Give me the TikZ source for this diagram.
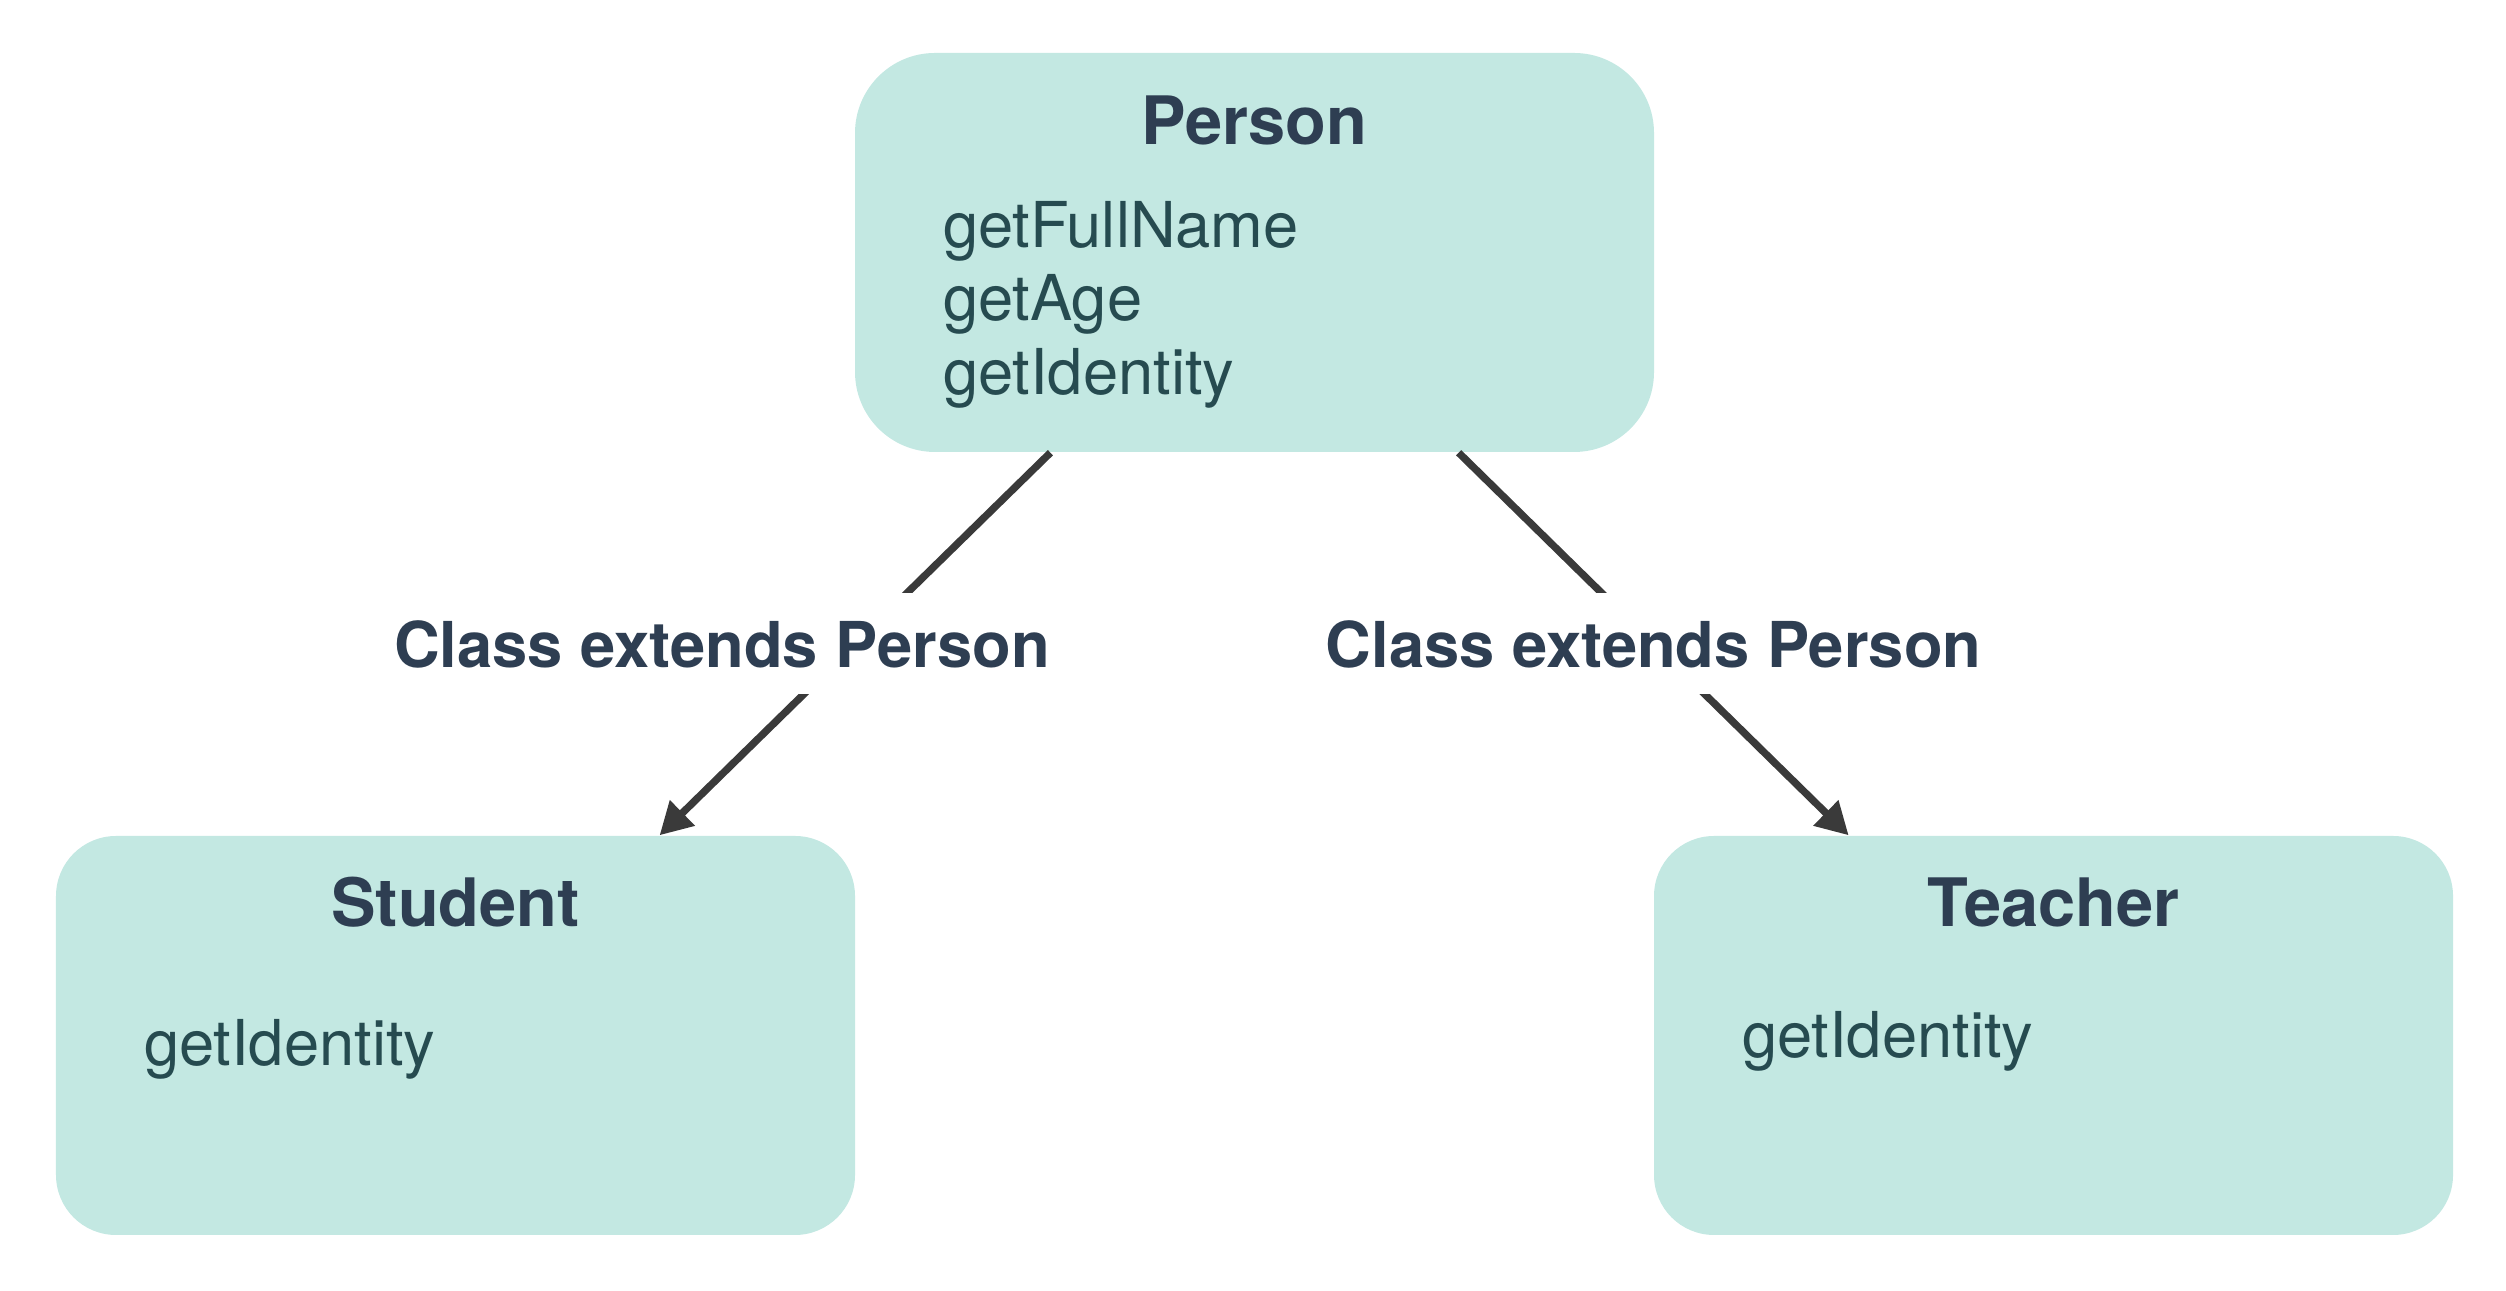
\documentclass[tikz,border=0pt]{standalone}
\usepackage{fontspec}
\setmainfont{TeX Gyre Heros}
\usetikzlibrary{positioning, calc, arrows.meta}

\definecolor{boxfill}{HTML}{C3E8E2}
\definecolor{titlecol}{HTML}{2E3E52}
\definecolor{methcol}{HTML}{264B50}
\definecolor{arrcol}{HTML}{3A3A3A}

\begin{document}
\begin{tikzpicture}

% GLOBAL SETTINGS
\tikzset{
  classbox/.style={fill=boxfill, draw=none, rounded corners=0.6cm,
    minimum width=7.99cm, minimum height=3.99cm, inner sep=0pt},
  classtitle/.style={text=titlecol, font=\fontsize{19}{23}\selectfont\bfseries,
    inner sep=0pt, anchor=base},
  method/.style={text=methcol, font=\fontsize{18}{22}\selectfont,
    inner sep=0pt, anchor=base west},
  extlabel/.style={fill=white, text=titlecol, font=\fontsize{18}{22}\selectfont\bfseries,
    inner xsep=2pt, minimum height=1.01cm},
  inherit/.style={draw=arrcol, line width=2.1pt, -{Triangle[length=0.32cm, width=0.34cm]}}
}
\newlength{\mleft}
\setlength{\mleft}{0.88cm}

\useasboundingbox (0,0) rectangle (25.06,12.91);

% BOXES
\node[classbox, rounded corners=0.8cm] (person) at (12.545,10.385) {};
\node[classbox] (student) at (4.555,2.555) {};
\node[classbox] (teacher) at (20.535,2.555) {};

% TITLES
\node[classtitle] (personT) at ($(person.north)+(0,-0.92)$) {Person};
\node[classtitle] (studentT) at ($(student.north)+(0,-0.91)$) {Student};
\node[classtitle] (teacherT) at ($(teacher.north)+(0,-0.91)$) {Teacher};

% METHODS
\path foreach \m [count=\i] in {getFullName,getAge,getIdentity} {
  ($(person.north west)+(\mleft,-1.95-0.735*\i+0.735)$) node[method] (pm\i) {\m}
};
\node[method] (sm1) at ($(student.north west)+(\mleft,-2.30)$) {getIdentity};
\node[method] (tm1) at ($(teacher.north west)+(\mleft,-2.22)$) {getIdentity};

% EDGES
\draw[inherit] ($(person.south west)!0.245!(person.south east)$)
  -- node[extlabel, xshift=-1.33cm] (ext1) {Class extends Person}
  ($(student.north west)!0.755!(student.north east)$);
\draw[inherit] ($(person.south west)!0.755!(person.south east)$)
  -- node[extlabel] (ext2) {Class extends Person}
  ($(teacher.north west)!0.244!(teacher.north east)$);

\end{tikzpicture}
\end{document}
